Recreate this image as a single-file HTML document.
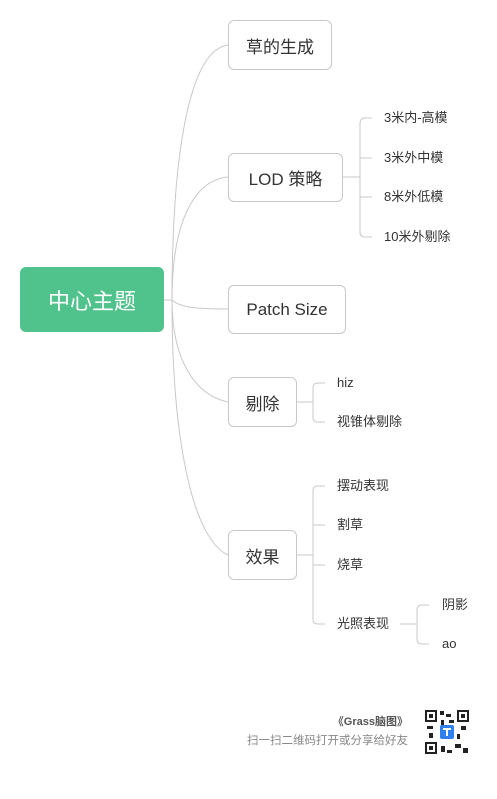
<!DOCTYPE html>
<html><head><meta charset="utf-8"><style>
body{margin:0;width:497px;height:799px;background:#fff;position:relative;overflow:hidden;font-family:"Liberation Sans","Noto Sans CJK SC",sans-serif;}
.b{position:absolute;box-sizing:border-box;border:1px solid #c8c8c8;border-radius:6px;background:#fff;display:flex;align-items:center;justify-content:center;font-size:17px;color:#333;}
.t{position:absolute;font-size:13px;color:#333;line-height:16px;white-space:nowrap;}
</style></head><body>
<svg width="497" height="799" style="position:absolute;left:0;top:0" fill="none" stroke="#c8c8c8" stroke-width="1">
<path d="M164 300 H172 C172 150 190 50 228 45"/>
<path d="M164 300 H172 C172 220 195 180 228 177"/>
<path d="M164 300 H172 C180 308 200 309 228 309"/>
<path d="M164 300 H172 C172 360 195 395 228 402"/>
<path d="M164 300 H172 C172 450 195 540 228 555"/>
<path d="M343 177 H360 M360 124 V232 Q360 237 365 237 H372 M360 124 Q360 118 365 118 H372 M360 158 H372 M360 197 H372"/>
<path d="M297 402 H313 M313 388 V417 Q313 422 318 422 H325 M313 388 Q313 383 318 383 H325"/>
<path d="M297 555 H313 M313 491 V619 Q313 624 318 624 H325 M313 491 Q313 486 318 486 H325 M313 525 H325 M313 565 H325"/>
<path d="M400 624 H417 M417 610 V639 Q417 644 422 644 H429 M417 610 Q417 605 422 605 H429"/>
</svg>
<div class="b" style="left:20px;top:267px;width:144px;height:65px;background:#50c28b;border:none;color:#fff;font-size:22px;">中心主题</div>
<div class="b" style="left:228px;top:20px;width:104px;height:50px;">草的生成</div>
<div class="b" style="left:228px;top:153px;width:115px;height:49px;">LOD 策略</div>
<div class="b" style="left:228px;top:285px;width:118px;height:49px;">Patch Size</div>
<div class="b" style="left:228px;top:377px;width:69px;height:50px;">剔除</div>
<div class="b" style="left:228px;top:530px;width:69px;height:50px;">效果</div>
<div class="t" style="left:384px;top:110px">3米内-高模</div>
<div class="t" style="left:384px;top:150px">3米外中模</div>
<div class="t" style="left:384px;top:189px">8米外低模</div>
<div class="t" style="left:384px;top:229px">10米外剔除</div>
<div class="t" style="left:337px;top:375px">hiz</div>
<div class="t" style="left:337px;top:414px">视锥体剔除</div>
<div class="t" style="left:337px;top:478px">摆动表现</div>
<div class="t" style="left:337px;top:517px">割草</div>
<div class="t" style="left:337px;top:557px">烧草</div>
<div class="t" style="left:337px;top:616px">光照表现</div>
<div class="t" style="left:442px;top:597px">阴影</div>
<div class="t" style="left:442px;top:636px">ao</div>
<div class="t" style="right:89px;top:714px;font-size:11px;font-weight:bold;color:#555">《Grass脑图》</div>
<div class="t" style="right:89px;top:733px;font-size:11.5px;color:#888">扫一扫二维码打开或分享给好友</div>
<svg width="52" height="52" style="position:absolute;left:421px;top:706px">
<rect width="52" height="52" fill="#fff"/>
<g fill="#222">
<rect x="4" y="4" width="12" height="12"/><rect x="36" y="4" width="12" height="12"/><rect x="4" y="36" width="12" height="12"/>
<rect x="19" y="5" width="4" height="4"/><rect x="25" y="8" width="5" height="3"/><rect x="20" y="14" width="3" height="6"/><rect x="6" y="20" width="6" height="3"/><rect x="28" y="14" width="5" height="3"/><rect x="40" y="20" width="5" height="4"/><rect x="34" y="38" width="6" height="4"/><rect x="42" y="42" width="5" height="5"/><rect x="20" y="40" width="4" height="6"/><rect x="26" y="44" width="5" height="3"/><rect x="8" y="27" width="4" height="5"/><rect x="36" y="28" width="3" height="5"/>
</g>
<g fill="#fff"><rect x="6" y="6" width="8" height="8"/><rect x="38" y="6" width="8" height="8"/><rect x="6" y="38" width="8" height="8"/></g>
<g fill="#222"><rect x="8" y="8" width="4" height="4"/><rect x="40" y="8" width="4" height="4"/><rect x="8" y="40" width="4" height="4"/></g>
<rect x="19" y="19" width="14" height="14" rx="2" fill="#2f7ff0"/>
<path d="M22 23 H30 M26 23 V30" stroke="#fff" stroke-width="2"/>
</svg>
</body></html>
